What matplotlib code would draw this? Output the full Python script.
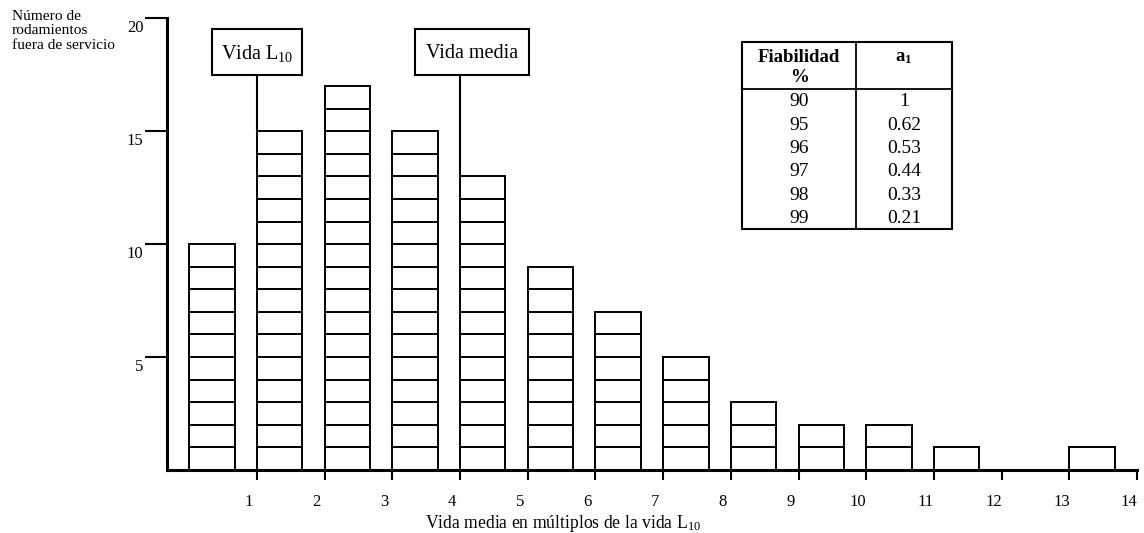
import numpy as np
import matplotlib
matplotlib.use("Agg")
import matplotlib.pyplot as plt
import matplotlib.transforms as mtransforms
from matplotlib.patches import Rectangle

plt.rcParams['font.family'] = ['Liberation Serif', 'DejaVu Serif']
plt.rcParams['mathtext.fontset'] = 'custom'
plt.rcParams['mathtext.rm'] = 'Liberation Serif'
plt.rcParams['mathtext.it'] = 'Liberation Serif'
plt.rcParams['mathtext.bf'] = 'Liberation Serif:bold'

# failed bearings per life interval (multiples of L10)
intervals = np.arange(14)
failures = [10, 15, 17, 15, 13, 9, 7, 5, 3, 2, 2, 1, 0, 1]

x_ticks = list(range(1, 15))
y_ticks = [5, 10, 15, 20]

# reliability table
fiabilidad = ["90", "95", "96", "97", "98", "99"]
a1 = ["1", "0.62", "0.53", "0.44", "0.33", "0.21"]

fig = plt.figure(figsize=(11.44, 5.33), dpi=100)
ax = fig.add_axes([167 / 1144, 1 - 470 / 533, 970 / 1144, 451.7 / 533])

# each failure is one stacked unit box
xs = np.repeat(intervals, failures)
bottoms = np.concatenate([np.arange(n) for n in failures])
ax.bar(xs, 1, bottom=bottoms, width=0.67, align='edge',
       facecolor='white', edgecolor='black', linewidth=1.4)

ax.set_xlim(-0.33, 14.0)
ax.set_ylim(0, 20)

for s in ['top', 'right']:
    ax.spines[s].set_visible(False)
for s in ['left', 'bottom']:
    ax.spines[s].set_linewidth(2.2)

ax.set_xticks(x_ticks)
ax.set_xticklabels([str(t) for t in x_ticks])
ax.set_yticks(y_ticks)
ax.set_yticklabels([str(t) for t in y_ticks])
ax.tick_params(axis='x', direction='out', length=7, width=1.5, pad=10, labelsize=12)
ax.tick_params(axis='y', direction='out', length=16, width=1.5, pad=1, labelsize=12)

# labels sit off-centre from their ticks in the original
dx = mtransforms.ScaledTranslation(-8 / 100, 0, fig.dpi_scale_trans)
for lab in ax.get_xticklabels():
    lab.set_transform(lab.get_transform() + dx)
dy = mtransforms.ScaledTranslation(0, -8 / 100, fig.dpi_scale_trans)
for lab in ax.get_yticklabels():
    lab.set_transform(lab.get_transform() + dy)

ax.set_xlabel(r'Vida media en múltiplos de la vida L$_{\mathrm{10}}$', fontsize=12.7)
ax.xaxis.set_label_coords(0.408, -0.095)

fig.text(12 / 1144, 1 - 10 / 533, 'Número de\nrodamientos\nfuera de servicio',
         ha='left', va='top', fontsize=11.1, linespacing=1.15)

# marker boxes
def marker(x0, x1, xline, top_bar, label):
    ax.add_patch(Rectangle((x0, 17.51), x1 - x0, 2.0, facecolor='white',
                           edgecolor='black', linewidth=1.5, clip_on=False))
    ax.text((x0 + x1) / 2, 18.45, label, ha='center', va='center', fontsize=14.5)
    ax.plot([xline, xline], [top_bar, 17.51], color='black', lw=1.5, clip_on=False)

marker(0.33, 1.66, 1.0, failures[1], r'Vida L$_{\mathrm{10}}$')
marker(3.34, 5.02, 4.0, failures[4], 'Vida media')

# reliability table
tx0, tx1, txm = 8.17, 11.27, 9.85
ty_top, ty_head, ty_bot = 18.95, 16.85, 10.65
ax.add_patch(Rectangle((tx0, ty_bot), tx1 - tx0, ty_top - ty_bot, facecolor='white',
                       edgecolor='black', linewidth=1.5, clip_on=False))
ax.plot([txm, txm], [ty_bot, ty_top], color='black', lw=1.3)
ax.plot([tx0, tx1], [ty_head, ty_head], color='black', lw=1.3)
c1 = (tx0 + txm) / 2
c2 = (txm + tx1) / 2
ax.text(c1, 18.25, 'Fiabilidad', ha='center', va='center', fontsize=13.5, fontweight='bold')
ax.text(c1, 17.38, '%', ha='center', va='center', fontsize=13.5, fontweight='bold')
ax.text(c2, 18.25, r'$\mathbf{a}_{\mathbf{1}}$', ha='center', va='center', fontsize=13.5)
row_h = 23.3 / 22.6
for i, (f, a) in enumerate(zip(fiabilidad, a1)):
    yy = 16.3 - i * row_h
    ax.text(c1, yy, f, ha='center', va='center', fontsize=14)
    ax.text(c2, yy, a, ha='center', va='center', fontsize=14)

fig.savefig('out.png', dpi=100)
